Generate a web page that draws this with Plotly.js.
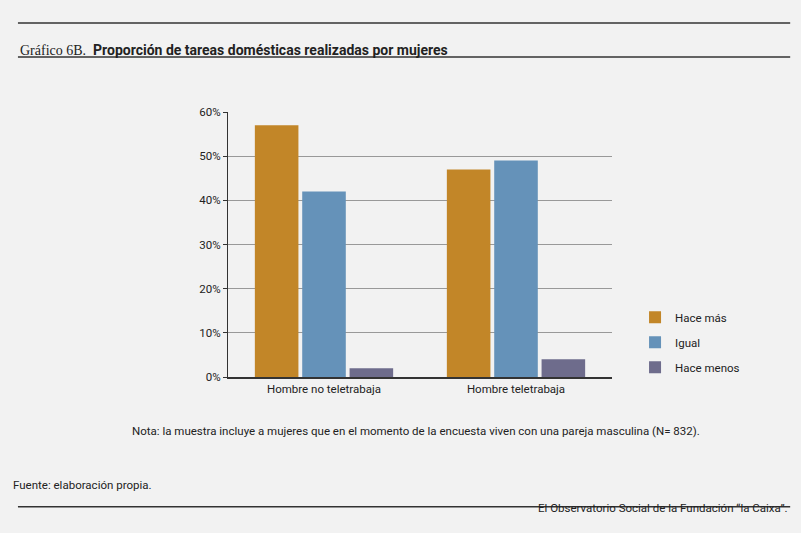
<!DOCTYPE html>
<html>
<head>
<meta charset="utf-8">
<script src="https://cdn.plot.ly/plotly-3.0.1.min.js"></script>
<style>body{margin:0;background:#f2f2f2}</style>
</head>
<body>
<div id="grafico" style="width:801px;height:533px"></div>
<script>
/* Datos del grafico */
var categorias = ['Hombre no teletrabaja', 'Hombre teletrabaja'];
var haceMas = [0.57, 0.47];
var igual = [0.42, 0.49];
var haceMenos = [0.02, 0.04];

var trazas = [
  {x: categorias, y: haceMas, name: 'Hace más', type: 'bar', legendgroup: 'a', marker: {color: '#c28628'}},
  {x: categorias, y: igual, name: 'Igual', type: 'bar', legendgroup: 'b', marker: {color: '#6592b9'}},
  {x: categorias, y: haceMenos, name: 'Hace menos', type: 'bar', legendgroup: 'c', marker: {color: '#6e6c8c'}}
];

var texto = {family: 'Roboto, Arial, sans-serif', size: 11.5, color: '#222'};

var layout = {
  width: 801, height: 533,
  paper_bgcolor: '#f2f2f2', plot_bgcolor: '#f2f2f2',
  margin: {l: 228, r: 189, t: 112, b: 156},
  font: texto,
  barmode: 'group', bargap: 0.26, bargroupgap: 0.08,
  showlegend: true,
  legend: {x: 1.06, y: 0.28, yanchor: 'top', font: texto, tracegroupgap: 6, itemwidth: 30},
  xaxis: {showline: true, linecolor: '#333', linewidth: 1.5, ticks: '', fixedrange: true},
  yaxis: {range: [0, 0.6], dtick: 0.1, tickformat: '.0%', gridcolor: '#999', gridwidth: 0.7,
          showline: true, linecolor: '#333', zeroline: false, ticks: 'outside', ticklen: 4, tickcolor: '#333'},
  shapes: [
    {type: 'line', xref: 'paper', yref: 'paper', x0: -0.547, x1: 1.464, y0: 1.336, y1: 1.336, line: {color: '#333', width: 1.5}},
    {type: 'line', xref: 'paper', yref: 'paper', x0: -0.547, x1: 1.464, y0: 1.208, y1: 1.208, line: {color: '#333', width: 1.5}},
    {type: 'line', xref: 'paper', yref: 'paper', x0: -0.547, x1: 1.464, y0: -0.49, y1: -0.49, line: {color: '#333', width: 1.5}}
  ],
  annotations: [
    {xref: 'paper', yref: 'paper', x: -0.547, y: 1.272, xanchor: 'left', showarrow: false,
     text: '<span style="font-family:Liberation Serif,serif;font-size:14px">Gráfico 6B.</span>  <b>Proporción de tareas domésticas realizadas por mujeres</b>',
     font: {family: 'Roboto, Arial, sans-serif', size: 14, color: '#222'}},
    {xref: 'paper', yref: 'paper', x: 0.49, y: -0.238, showarrow: false,
     text: 'Nota: la muestra incluye a mujeres que en el momento de la encuesta viven con una pareja masculina (N= 832).', font: texto},
    {xref: 'paper', yref: 'paper', x: -0.565, y: -0.44, xanchor: 'left', showarrow: false,
     text: 'Fuente: elaboración propia.', font: texto},
    {xref: 'paper', yref: 'paper', x: 1.464, y: -0.528, xanchor: 'right', showarrow: false,
     text: 'El Observatorio Social de la Fundación “la Caixa”.', font: texto}
  ]
};

Plotly.newPlot('grafico', trazas, layout, {displayModeBar: false});
</script>
</body>
</html>
